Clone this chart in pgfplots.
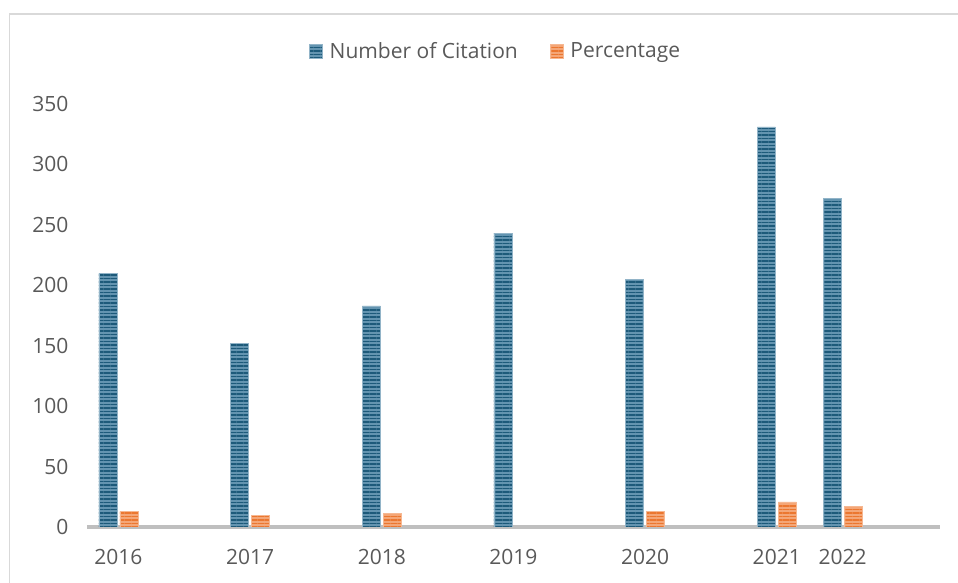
\documentclass[border=0pt]{standalone}
\usepackage{fontspec}
\setmainfont{Open Sans}
\usepackage{pgfplots}
\usepackage{pgfplotstable}
\pgfplotsset{compat=1.18}
\usetikzlibrary{patterns.meta}

\definecolor{citeDark}{HTML}{1D5A7A}
\definecolor{citeLight}{HTML}{6394B0}
\definecolor{pctDark}{HTML}{EB7730}
\definecolor{pctLight}{HTML}{F4A677}
\definecolor{textgray}{HTML}{595959}
\definecolor{framegray}{HTML}{D9D9D9}
\definecolor{axisgray}{HTML}{BFBFBF}

% position on the year axis (2022 sits half a step after 2021)
\pgfplotstableread{
pos  citations
0    210
1    152
2    183
3    243
4    205
5    331
5.5  272
}\citationdata

\pgfplotstableread{
pos  percentage
0    13.2
1    9.5
2    11.5
4    12.8
5    20.7
5.5  17.0
}\percentdata

\begin{document}
\begin{tikzpicture}
\useasboundingbox (0,0) rectangle (958bp,583bp);
\draw[framegray, line width=1.5bp] (9.5bp,-10bp) -- (9.5bp,569bp) -- (990bp,569bp);
\begin{axis}[
  at={(87bp,56bp)}, anchor=south west,
  scale only axis, width=853bp, height=423bp,
  xmin=-0.239, xmax=6.24, ymin=0, ymax=350,
  axis lines*=left,
  y axis line style={draw=none},
  x axis line style={axisgray, line width=3bp},
  major tick length=0,
  xtick={0,1,2,3,4,5,5.5},
  xticklabels={2016,2017,2018,2019,2020,2021,2022},
  ytick={0,50,...,350},
  tick label style={font=\fontsize{21bp}{25bp}\selectfont, text=textgray},
  /pgf/number format/assume math mode=true,
  xticklabel style={yshift=-19bp},
  yticklabel style={xshift=-15bp},
  ybar, bar width=18bp,
  legend columns=2,
  legend style={at={(rel axis cs:0.479,1.125)}, anchor=center, draw=none, fill=none,
    font=\fontsize{21bp}{25bp}\selectfont, text=textgray,
    /tikz/every odd column/.append style={column sep=5bp},
    /tikz/every even column/.append style={column sep=30bp},
    inner sep=0pt},
  legend image code/.code={\draw[#1] (0bp,-7bp) rectangle (13bp,7bp);},
]
\addplot[bar shift=-10.5bp, fill=citeLight, draw=citeLight!70, line width=0.6bp,
  postaction={pattern={Lines[angle=0,distance=3.5bp,line width=1.9bp]}, pattern color=citeDark}]
  table[x=pos, y=citations] {\citationdata};
\addlegendentry{Number of Citation}
\addplot[bar shift=10.5bp, fill=pctLight, draw=pctLight!80, line width=0.6bp,
  postaction={pattern={Lines[angle=0,distance=3.5bp,line width=1.9bp]}, pattern color=pctDark}]
  table[x=pos, y=percentage] {\percentdata};
\addlegendentry{Percentage}
\end{axis}
\end{tikzpicture}
\end{document}
